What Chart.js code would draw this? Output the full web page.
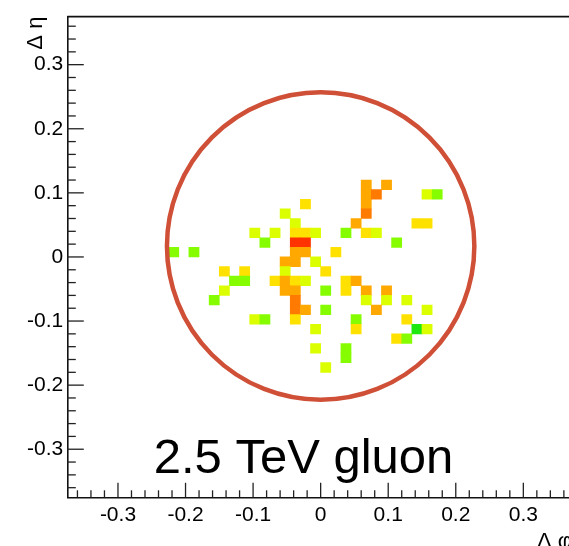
<!DOCTYPE html>
<html><head><meta charset="utf-8">
<script src="https://cdn.jsdelivr.net/npm/chart.js@4/dist/chart.umd.min.js"></script>
<style>
html,body{margin:0;padding:0;background:#fff;overflow:hidden;width:569px;height:546px;}
#wrap{position:relative;width:592px;height:546px;}
canvas{display:block;}
</style></head><body>
<div id="wrap"><canvas id="c" width="592" height="546"></canvas></div>
<script>
// ---- data (bin centres in Δφ, Δη; bin width 0.015) ----
const binWidth = 0.015;
const cellPhi = [
  -0.2175,-0.1875,-0.0975,-0.0675,-0.0825,-0.1425,-0.1125,-0.1275,-0.1125,-0.1425,
  -0.1575,-0.0975,-0.0825,-0.0525,-0.0375,-0.0375,-0.0225,-0.0075,-0.0375,-0.0225,
  -0.0375,-0.0225,-0.0525,-0.0375,-0.0075,-0.0525,0.0075,-0.0675,-0.0525,-0.0375,
  -0.0225,-0.0525,-0.0375,0.0075,-0.0375,-0.0375,-0.0225,0.0075,-0.0375,-0.0075,
  -0.0075,0.0075,-0.0225,0.0225,0.0375,0.0375,0.0375,0.0525,0.0675,0.0675,
  0.0975,0.0975,0.0825,0.1275,0.1575,0.0525,0.0525,0.1275,0.1425,0.1575,
  0.1125,0.1275,0.0375,0.0375,0.0675,0.0675,0.0675,0.0675,0.0825,0.0975,
  0.0525,0.0675,0.0825,0.1125,0.1425,0.1575,0.1575,0.1725
];
const cellEta = [
  0.0075,0.0075,0.0375,0.0375,0.0225,-0.0225,-0.0225,-0.0375,-0.0375,-0.0525,
  -0.0675,-0.0975,-0.0975,0.0675,0.0525,0.0375,0.0375,0.0375,0.0225,0.0225,
  0.0075,0.0075,-0.0075,-0.0075,-0.0075,-0.0225,-0.0225,-0.0375,-0.0375,-0.0375,
  -0.0375,-0.0525,-0.0525,-0.0525,-0.0675,-0.0825,-0.0825,-0.0825,-0.0975,-0.1125,
  -0.1425,-0.1725,0.0825,0.0075,0.0375,-0.0375,-0.0525,-0.0375,-0.0525,-0.0675,
  -0.0525,-0.0675,-0.0825,-0.0675,-0.0825,-0.0975,-0.1125,-0.0975,-0.1125,-0.1125,
  -0.1275,-0.1275,-0.1425,-0.1575,0.1125,0.0975,0.0825,0.0675,0.0975,0.1125,
  0.0525,0.0375,0.0375,0.0225,0.0525,0.0525,0.0975,0.0975
];
// colour level of each cell (1 = lowest, 7 = highest)
const cellLevel = [
  2,2,3,3,2,4,4,2,2,3,
  2,3,2,3,3,4,4,3,7,7,
  5,5,5,5,3,3,4,4,5,4,
  3,5,5,2,6,6,5,2,4,3,
  3,3,4,4,2,4,4,5,5,3,
  5,3,5,3,3,2,4,4,1,3,
  4,2,2,2,5,5,5,6,6,5,
  5,4,3,2,4,4,3,2
];
const levelColors = ['#1ee80e','#86fc00','#dcff00','#ffe100','#ffa800','#ff7a00','#ff3200'];
const majorTicks = [-0.3,-0.2,-0.1,0,0.1,0.2,0.3];
const axisMin = -0.375, axisMax = 0.375;
const jetPhi = 0.0, jetEta = 0.017, jetR = 0.2275;
const labelText = '2.5 TeV gluon';
const xTitle = 'Δ φ', yTitle = 'Δ η';

const FONT = '"Liberation Sans", Arial, Helvetica, sans-serif';

const decor = {
  id: 'decor',
  afterDatasetsDraw(chart) {
    const {ctx, chartArea: a, scales: {x, y}} = chart;
    ctx.save();
    // frame top/right
    ctx.strokeStyle = '#111';
    ctx.lineWidth = 1.6;
    ctx.beginPath();
    ctx.moveTo(a.left, a.top); ctx.lineTo(a.right, a.top); ctx.lineTo(a.right, a.bottom);
    ctx.stroke();
    // inward ticks
    ctx.lineWidth = 1.3;
    ctx.strokeStyle = '#222';
    for (let i = -18; i <= 18; i++) {
      const v = i * 0.02;
      const major = (i % 5 === 0);
      const py = y.getPixelForValue(v);
      ctx.beginPath();
      ctx.moveTo(a.left, py); ctx.lineTo(a.left + (major ? 16.5 : 8.5), py); ctx.stroke();
      const px = x.getPixelForValue(v);
      ctx.beginPath();
      ctx.moveTo(px, a.bottom); ctx.lineTo(px, a.bottom - (major ? 14.5 : 7)); ctx.stroke();
    }
    // circle
    const cx = x.getPixelForValue(jetPhi), cy = y.getPixelForValue(jetEta);
    const r = x.getPixelForValue(jetR) - x.getPixelForValue(0);
    ctx.strokeStyle = '#cf4f37';
    ctx.lineWidth = 4.5;
    ctx.beginPath(); ctx.arc(cx, cy, r, 0, Math.PI * 2); ctx.stroke();
    // label
    ctx.fillStyle = '#000';
    ctx.font = '49px ' + FONT;
    ctx.textAlign = 'center'; ctx.textBaseline = 'alphabetic';
    ctx.fillText(labelText, 303.5, 473);
    // axis titles
    ctx.font = '22px ' + FONT;
    ctx.textAlign = 'right';
    ctx.fillText(xTitle, a.right - 2, 548);
    ctx.save();
    ctx.translate(42, a.top);
    ctx.rotate(-Math.PI / 2);
    ctx.textAlign = 'right';
    ctx.fillText(yTitle, 0, 0);
    ctx.restore();
    ctx.restore();
  }
};

const tickCb = (v) => {
  const r = Math.round(v * 10) / 10;
  if (Math.abs(v - r) > 1e-6) return null;
  return r === 0 ? '0' : r.toFixed(1);
};

new Chart(document.getElementById('c').getContext('2d'), {
  type: 'bar',
  data: {
    datasets: [{
      data: cellPhi.map((p, i) => ({x: p, y: [cellEta[i] - binWidth / 2, cellEta[i] + binWidth / 2]})),
      backgroundColor: cellLevel.map(l => levelColors[l - 1]),
      borderWidth: 0,
      barPercentage: 1,
      categoryPercentage: 1,
      grouped: false
    }]
  },
  options: {
    responsive: false,
    animation: false,
    devicePixelRatio: 1,
    layout: {padding: {left: 0, top: 12.7, right: 18, bottom: 0}},
    plugins: {legend: {display: false}, tooltip: {enabled: false}},
    scales: {
      x: {
        type: 'linear', min: axisMin, max: axisMax, offset: false,
        grid: {display: false, drawTicks: false},
        border: {display: true, color: '#111', width: 1.6},
        afterBuildTicks: (s) => { s.ticks = majorTicks.map(v => ({value: v})); },
        ticks: {callback: tickCb, color: '#000', padding: 5, maxRotation: 0, autoSkip: false,
                font: {family: FONT, size: 21}},
        afterFit: (s) => { s.height = 48.7; }
      },
      y: {
        type: 'linear', min: axisMin, max: axisMax,
        grid: {display: false, drawTicks: false},
        border: {display: true, color: '#111', width: 1.6},
        afterBuildTicks: (s) => { s.ticks = majorTicks.map(v => ({value: v})); },
        ticks: {callback: tickCb, color: '#000', padding: 4, autoSkip: false,
                font: {family: FONT, size: 21}},
        afterFit: (s) => { s.width = 67.3; }
      }
    }
  },
  plugins: [decor]
});
</script>
</body></html>
